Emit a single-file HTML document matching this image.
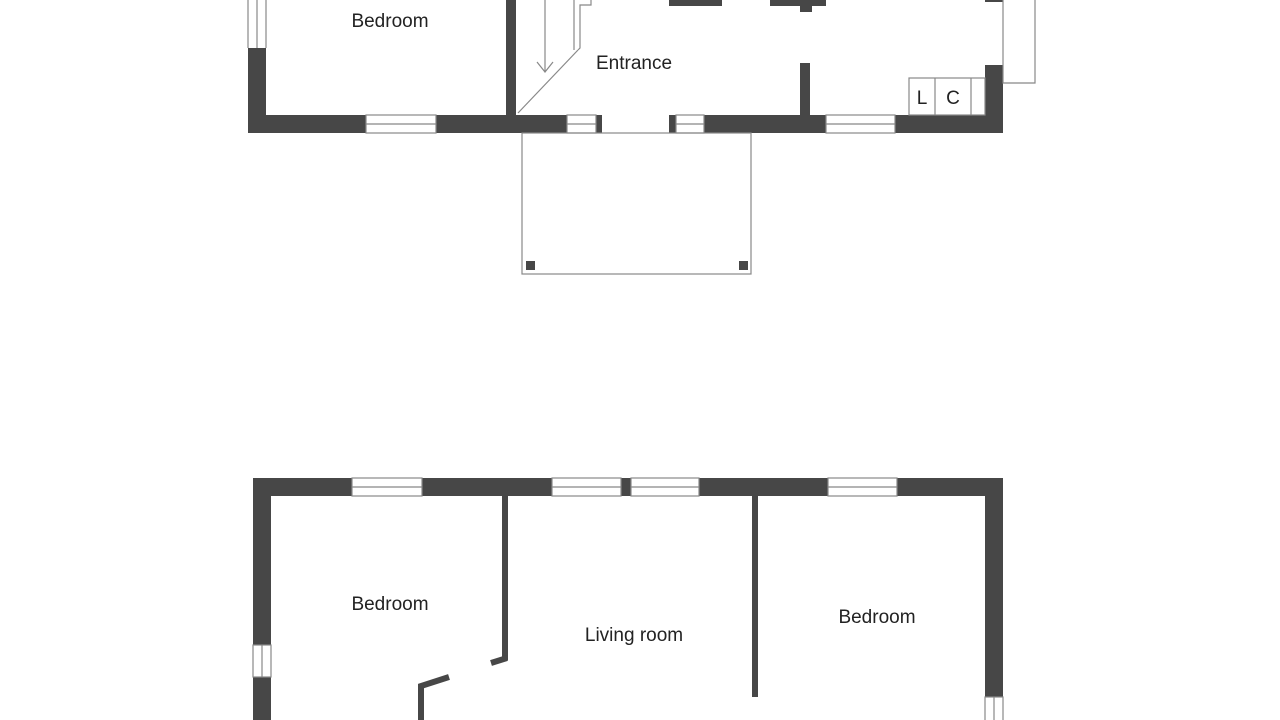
<!DOCTYPE html>
<html><head><meta charset="utf-8"><style>html,body{margin:0;padding:0;background:#fff}svg{display:block}text{font-family:"Liberation Sans",sans-serif;font-size:19px;fill:#222;text-anchor:middle}</style></head><body>
<svg width="1280" height="720" viewBox="0 0 1280 720">
<g fill="#474747">
<rect x="248" y="48" width="18" height="85"/>
<rect x="248" y="115" width="118" height="18"/>
<rect x="436" y="115" width="131" height="18"/>
<rect x="596" y="115" width="6" height="18"/>
<rect x="669" y="115" width="7" height="18"/>
<rect x="704" y="115" width="122" height="18"/>
<rect x="895" y="115" width="108" height="18"/>
<rect x="985" y="65" width="18" height="68"/>
<rect x="506" y="0" width="10" height="115"/>
<rect x="800" y="63" width="10" height="52"/>
<rect x="669" y="0" width="53" height="6"/>
<rect x="770" y="0" width="56" height="6"/>
<rect x="800" y="6" width="12" height="6"/>
<rect x="985" y="0" width="18" height="2"/>
<rect x="526" y="261" width="9" height="9"/>
<rect x="739" y="261" width="9" height="9"/>
<rect x="253" y="478" width="99" height="18"/>
<rect x="422" y="478" width="130" height="18"/>
<rect x="621" y="478" width="10" height="18"/>
<rect x="699" y="478" width="129" height="18"/>
<rect x="897" y="478" width="106" height="18"/>
<rect x="253" y="478" width="18" height="167"/>
<rect x="253" y="677" width="18" height="43"/>
<rect x="985" y="478" width="18" height="219"/>
<rect x="502" y="496" width="6" height="164"/>
<rect x="752" y="496" width="6" height="201"/>
<rect x="418" y="686" width="6" height="34"/>
</g>
<g stroke="#474747" stroke-width="6" fill="none">
<line x1="507" y1="658" x2="491" y2="663"/>
<polyline points="421,720 421,686 449,677"/>
</g>
<g stroke="#888" stroke-width="1.2" fill="none">
<rect x="366" y="115" width="70" height="18"/><line x1="366" y1="124" x2="436" y2="124"/>
<rect x="567" y="115" width="29" height="18"/><line x1="567" y1="124" x2="596" y2="124"/>
<rect x="676" y="115" width="28" height="18"/><line x1="676" y1="124" x2="704" y2="124"/>
<rect x="826" y="115" width="69" height="18"/><line x1="826" y1="124" x2="895" y2="124"/>
<line x1="248" y1="0" x2="248" y2="48"/><line x1="257" y1="0" x2="257" y2="48"/><line x1="266" y1="0" x2="266" y2="48"/>
<polyline points="1003,0 1003,83 1035,83 1035,0"/>
<rect x="909" y="78" width="76" height="37"/><line x1="935" y1="78" x2="935" y2="115"/><line x1="971" y1="78" x2="971" y2="115"/>
<line x1="518" y1="113" x2="578" y2="50"/>
<polyline points="574,50 574,0"/><polyline points="578,50 580,48 580,5 591,5 591,0"/>
<line x1="545" y1="0" x2="545" y2="72"/><polyline points="537,62 545,72 553,62"/>
<rect x="522" y="133" width="229" height="141"/>
<rect x="352" y="478" width="70" height="18"/><line x1="352" y1="487" x2="422" y2="487"/>
<rect x="552" y="478" width="69" height="18"/><line x1="552" y1="487" x2="621" y2="487"/>
<rect x="631" y="478" width="68" height="18"/><line x1="631" y1="487" x2="699" y2="487"/>
<rect x="828" y="478" width="69" height="18"/><line x1="828" y1="487" x2="897" y2="487"/>
<rect x="253" y="645" width="18" height="32"/><line x1="262" y1="645" x2="262" y2="677"/>
<rect x="985" y="697" width="18" height="30"/><line x1="994" y1="697" x2="994" y2="720"/>
</g>
<text x="390" y="27">Bedroom</text>
<text x="634" y="69">Entrance</text>
<text x="922" y="104">L</text>
<text x="953" y="104">C</text>
<text x="390" y="610">Bedroom</text>
<text x="634" y="641">Living room</text>
<text x="877" y="623">Bedroom</text>
</svg>
</body></html>
